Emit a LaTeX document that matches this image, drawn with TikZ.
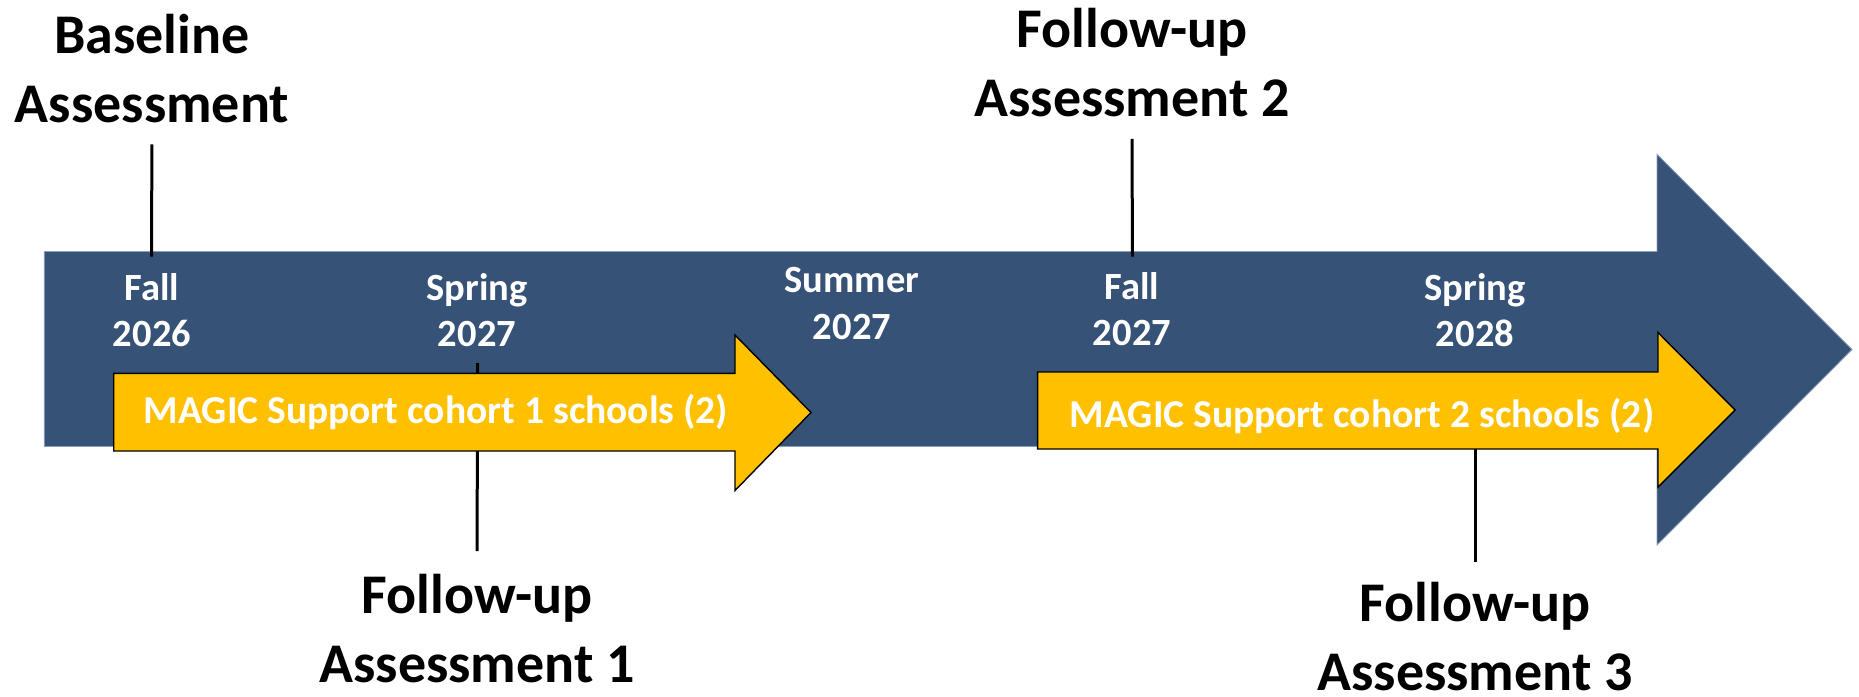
\documentclass[tikz,border=0pt]{standalone}
\usepackage{fontspec}
\setmainfont{Carlito}
\definecolor{band}{RGB}{54,82,118}
\definecolor{bandedge}{RGB}{140,158,184}
\definecolor{gold}{RGB}{255,192,0}
\begin{document}
\begin{tikzpicture}[x=1pt,y=-1pt,
  milestone/.style={font=\fontsize{56}{69}\selectfont\bfseries, align=center, inner sep=0pt, anchor=base},
  season/.style={font=\fontsize{38.5}{46.5}\selectfont\bfseries, text=white, align=center, inner sep=0pt, anchor=base},
  cohort/.style={font=\fontsize{39.5}{47}\selectfont\bfseries, text=white, inner sep=0pt, anchor=base},
  tick/.style={draw=black, line width=3pt},
  timeline/.style={fill=band, draw=bandedge, line width=0.8pt},
  support/.style={fill=gold, draw=black, line width=1.4pt, line join=miter}]
\useasboundingbox (0,0) rectangle (1859,696);

% main timeline arrow
\path[timeline] (44.3,251.5) -- (1657,251.5) -- (1657,154.3) -- (1852,349.5)
  -- (1657,545) -- (1657,446.5) -- (44.3,446.5) -- cycle;

% tick end points
\coordinate (t1) at (151.5,256.5);
\coordinate (t2) at (477.6,363);
\coordinate (t3) at (1132.4,256.5);
\coordinate (t4) at (1475,449);

% milestone labels
\node[milestone] (base) at (152,122.7) {Baseline\\Assessment};
\node[milestone] (fu2) at (1132,116.7) {Follow-up\\Assessment 2};
\node[milestone] (fu1) at (477,682.7) {Follow-up\\Assessment 1};
\node[milestone] (fu3) at (1475,690.5) {Follow-up\\Assessment 3};

% ticks (the spring 2027 one runs behind the cohort arrow)
\draw[tick, shorten <=21pt] (base.south) -- (t1);
\draw[tick, shorten <=21.6pt] (fu2.south) -- (t3);
\draw[tick, shorten >=23pt] (t2) -- (fu1.north);
\draw[tick, shorten >=20pt] (t4) -- (fu3.north);

% cohort arrows
\path[support] (113.7,373.3) -- (735,373.3) -- (735,335) -- (811,412.5)
  -- (735,490.5) -- (735,451) -- (113.7,451) -- cycle;
\path[support] (1037.6,372) -- (1658,372) -- (1658,332.5) -- (1735,410)
  -- (1658,487) -- (1658,449) -- (1037.6,449) -- cycle;
\node[cohort] (c1) at (436,423.3) {MAGIC Support cohort 1 schools (2)};
\node[cohort] (c2) at (1362,427) {MAGIC Support cohort 2 schools (2)};

% seasons
\node[season] (s1) at (152,346.7) {Fall\\2026};
\node[season] (s2) at (477,346.7) {Spring\\2027};
\node[season] (s3) at (852,339.3) {Summer\\2027};
\node[season] (s4) at (1132,345.7) {Fall\\2027};
\node[season] (s5) at (1475,346.7) {Spring\\2028};
\end{tikzpicture}
\end{document}
